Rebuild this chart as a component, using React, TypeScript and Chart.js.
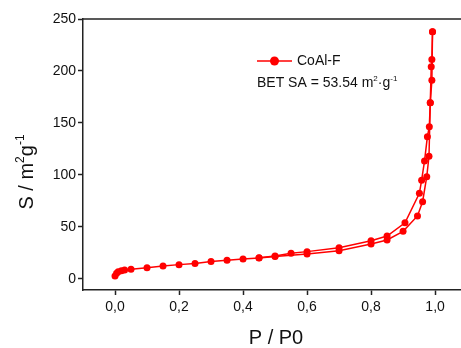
import React, { useEffect, useRef } from "react";
import { Chart, registerables } from "chart.js";

Chart.register(...registerables);

// Adsorption branch (lower)
const adsP = [0.0, 0.005, 0.01, 0.02, 0.03, 0.05, 0.1, 0.15, 0.2, 0.25, 0.3, 0.35, 0.4, 0.45, 0.5, 0.6, 0.7, 0.8, 0.85, 0.9, 0.945, 0.961, 0.974, 0.981, 0.985, 0.988, 0.99, 0.992];
const adsS = [2.9, 5.5, 7.0, 8.0, 8.6, 9.3, 10.9, 12.5, 13.8, 15.0, 16.7, 18.0, 19.2, 20.2, 21.6, 24.0, 27.2, 33.6, 37.5, 45.8, 60.6, 74.3, 98.4, 118, 169.5, 204, 211, 237.8];
// Desorption branch (upper)
const desP = [0.992, 0.99, 0.985, 0.982, 0.976, 0.967, 0.958, 0.951, 0.906, 0.85, 0.8, 0.7, 0.6, 0.55, 0.5, 0.45];
const desS = [237.8, 191, 169.5, 146.5, 136.8, 113.4, 95, 82.4, 54.0, 41.3, 36.8, 30.0, 26.3, 24.7, 22.0, 20.5];

const xTicks = [0, 0.2, 0.4, 0.6, 0.8, 1.0];
const yTicks = [0, 50, 100, 150, 200, 250];

const seriesName = "CoAl-F";
const RED = "#ff0000";
const FONT = "'Liberation Sans', Arial, sans-serif";

type Part = { t: string; sup?: boolean };

function drawRich(ctx: CanvasRenderingContext2D, parts: Part[], x: number, y: number, size: number, align: "left" | "center") {
  const supSize = Math.round(size * 0.6);
  let total = 0;
  for (const p of parts) {
    ctx.font = `${p.sup ? supSize : size}px ${FONT}`;
    total += ctx.measureText(p.t).width;
  }
  let cx = align === "center" ? x - total / 2 : x;
  ctx.textAlign = "left";
  ctx.textBaseline = "alphabetic";
  for (const p of parts) {
    ctx.font = `${p.sup ? supSize : size}px ${FONT}`;
    ctx.fillText(p.t, cx, p.sup ? y - size * 0.45 : y);
    cx += ctx.measureText(p.t).width;
  }
}

const decorPlugin = {
  id: "decor",
  afterDraw(chart: any) {
    const ctx: CanvasRenderingContext2D = chart.ctx;
    const a = chart.chartArea;
    ctx.save();
    // top frame
    ctx.strokeStyle = "#222";
    ctx.lineWidth = 1.5;
    ctx.beginPath();
    ctx.moveTo(a.left, a.top);
    ctx.lineTo(a.right, a.top);
    ctx.stroke();

    ctx.fillStyle = "#111";
    // legend
    const ly = 61;
    ctx.strokeStyle = RED;
    ctx.lineWidth = 1.5;
    ctx.beginPath();
    ctx.moveTo(257, ly);
    ctx.lineTo(292, ly);
    ctx.stroke();
    ctx.fillStyle = RED;
    ctx.beginPath();
    ctx.arc(274.5, ly, 4.5, 0, Math.PI * 2);
    ctx.fill();
    ctx.fillStyle = "#111";
    ctx.font = `14px ${FONT}`;
    ctx.textAlign = "left";
    ctx.textBaseline = "middle";
    ctx.fillText(seriesName, 297, ly);

    drawRich(ctx, [{ t: "BET SA = 53.54 m" }, { t: "2", sup: true }, { t: "·g" }, { t: "-1", sup: true }], 257, 87, 14, "left");

    // x title
    drawRich(ctx, [{ t: "P / P0" }], 276, 344, 20, "center");

    // y title
    ctx.translate(33, 172);
    ctx.rotate(-Math.PI / 2);
    drawRich(ctx, [{ t: "S / m" }, { t: "2", sup: true }, { t: "g" }, { t: "-1", sup: true }], 0, 0, 20, "center");
    ctx.restore();
  },
};

export default function App() {
  const ref = useRef<HTMLCanvasElement>(null);
  useEffect(() => {
    if (!ref.current) return;
    const chart = new Chart(ref.current, {
      type: "scatter",
      data: {
        datasets: [
          {
            label: seriesName,
            data: adsP.map((p, i) => ({ x: p, y: adsS[i] })),
            showLine: true,
            borderColor: RED,
            backgroundColor: RED,
            borderWidth: 1.5,
            pointRadius: 3.5,
            pointBorderWidth: 0,
          },
          {
            label: seriesName + " des",
            data: desP.map((p, i) => ({ x: p, y: desS[i] })),
            showLine: true,
            borderColor: RED,
            backgroundColor: RED,
            borderWidth: 1.5,
            pointRadius: 3.5,
            pointBorderWidth: 0,
          },
        ],
      },
      options: {
        animation: false,
        responsive: false,
        layout: { autoPadding: false, padding: { top: 19, right: 0, left: 0, bottom: 0 } },
        plugins: { legend: { display: false }, tooltip: { enabled: false } },
        scales: {
          x: {
            type: "linear",
            min: -0.1,
            max: 1.081,
            afterBuildTicks: (s: any) => {
              s.ticks = xTicks.map((v) => ({ value: v }));
            },
            afterFit: (s: any) => {
              s.height = 58;
              s.paddingLeft = 0;
              s.paddingRight = 0;
            },
            grid: { drawOnChartArea: false, tickLength: 5, tickColor: "#222", tickWidth: 1.5 },
            border: { color: "#222", width: 1.5 },
            ticks: {
              color: "#111",
              font: { family: FONT, size: 14 },
              padding: 4,
              maxRotation: 0,
              autoSkip: false,
              callback: (v: any) => Number(v).toFixed(1).replace(".", ","),
            },
          },
          y: {
            type: "linear",
            min: -10.6,
            max: 250,
            afterBuildTicks: (s: any) => {
              s.ticks = yTicks.map((v) => ({ value: v }));
            },
            afterFit: (s: any) => {
              s.width = 83;
              s.paddingLeft = 0;
              s.paddingRight = 0;
            },
            grid: { drawOnChartArea: false, tickLength: 5, tickColor: "#222", tickWidth: 1.5 },
            border: { color: "#222", width: 1.5 },
            ticks: {
              color: "#111",
              font: { family: FONT, size: 14 },
              padding: 2,
              autoSkip: false,
              callback: (v: any) => String(v),
            },
          },
        },
      },
      plugins: [decorPlugin],
    });
    return () => chart.destroy();
  }, []);
  return (
    <canvas
      ref={ref}
      width={461}
      height={348}
      style={{ position: "absolute", left: 0, top: 0, width: 461, height: 348, background: "#fff" }}
    />
  );
}
